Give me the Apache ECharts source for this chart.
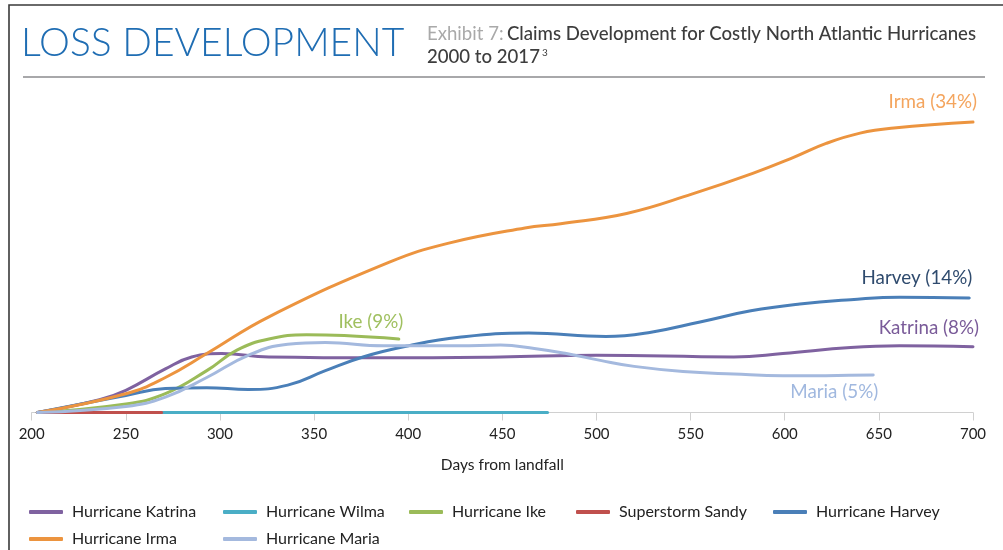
<!DOCTYPE html>
<html>
<head>
<meta charset="utf-8">
<script src="https://cdn.jsdelivr.net/npm/echarts@6/dist/echarts.min.js"></script>
<style>
html,body{margin:0;padding:0;background:#fff;}
#chart{width:1003px;height:550px;}
</style>
</head>
<body>
<div id="chart"></div>
<script>
// ---- data (x = days from landfall, y = cumulative development, %) ----
const xTicks = [200, 250, 300, 350, 400, 450, 500, 550, 600, 650, 700];
const seriesNames = ['Hurricane Katrina', 'Hurricane Wilma', 'Hurricane Ike', 'Superstorm Sandy', 'Hurricane Harvey', 'Hurricane Irma', 'Hurricane Maria'];
const katrina = [[203,0],[236,1.5],[250,2.6],[271,5.1],[285,6.5],[301,6.9],[326,6.5],[387,6.4],[449,6.5],[500,6.7],[573,6.5],[599,6.9],[635,7.6],[661,7.8],[700,7.7]];
const wilma = [[203,0],[474,0]];
const ike = [[203,0],[250,1.0],[271,2.2],[293,4.9],[309,7.3],[326,8.6],[346,9.1],[366,9.0],[395,8.6]];
const sandy = [[203,0],[269,0]];
const harvey = [[203,0],[250,2.0],[271,2.8],[293,2.9],[315,2.7],[336,3.2],[356,4.9],[376,6.5],[400,7.8],[427,8.8],[464,9.3],[505,8.9],[529,9.4],[555,10.6],[582,11.9],[608,12.7],[635,13.2],[661,13.5],[698,13.4]];
const irma = [[203,0],[250,2.2],[271,4.1],[293,6.9],[326,11.2],[390,17.6],[421,19.8],[462,21.6],[481,22.1],[516,23.3],[551,25.6],[583,28.0],[605,29.9],[622,31.5],[640,32.7],[658,33.3],[700,34.0]];
const maria = [[203,0],[250,0.7],[271,1.8],[293,4.1],[315,6.7],[336,8.0],[356,8.2],[387,7.8],[427,7.8],[449,7.9],[467,7.5],[484,6.9],[502,6.1],[520,5.4],[546,4.8],[573,4.5],[599,4.3],[647,4.4]];
const endLabels = ['Katrina (8%)', null, 'Ike (9%)', null, 'Harvey (14%)', 'Irma (34%)', 'Maria (5%)'];

// ---- styling ----
const colors = ['#7f62a0', '#4aaec6', '#9bbb59', '#c0504d', '#4a7fb8', '#ec943f', '#a4b9de'];
const labelColors = ['#7a5b99', null, '#a0c060', null, '#2f4b6e', '#f4a55e', '#a0b8df'];
// label offsets relative to line end: [dx of right/centre edge, dy of centre, align]
const labelPos = [[6,-19,'right'], null, [-28,-17,'center'], null, [3,-20,'right'], [4,-20,'right'], [5,17,'right']];
const legendLeft = [29, 223, 409, 576, 773, 29, 223];
const legendTop = [503, 503, 503, 503, 503, 530, 530];
const FONT = 'Lato, "Open Sans", sans-serif';

const allData = [katrina, wilma, ike, sandy, harvey, irma, maria];

const chart = echarts.init(document.getElementById('chart'), null, {renderer: 'canvas'});

const series = allData.map((d, i) => ({
  name: seriesNames[i],
  type: 'line',
  data: d,
  smooth: 0.45,
  symbol: 'none',
  lineStyle: {width: 3, color: colors[i], cap: 'round'},
  itemStyle: {color: colors[i]},
  z: 2 + i
}));

const legends = seriesNames.map((n, i) => ({
  data: [n],
  left: legendLeft[i],
  top: legendTop[i],
  padding: 0,
  icon: 'roundRect',
  itemWidth: 34,
  itemHeight: 4,
  textStyle: {fontFamily: FONT, fontSize: 16, color: '#222', padding: [0, 0, 0, 4], lineHeight: 18},
  selectedMode: false
}));

const option = {
  animation: false,
  backgroundColor: '#fff',
  grid: {left: 31.7, right: 30, top: 70.8, bottom: 137.5},
  xAxis: {
    type: 'value',
    min: 200, max: 700, interval: 50,
    name: 'Days from landfall',
    nameLocation: 'middle',
    nameGap: 44,
    nameTextStyle: {fontFamily: FONT, fontSize: 15.5, color: '#222'},
    axisLine: {show: true, lineStyle: {color: '#d0d0d0', width: 1}},
    axisTick: {show: true, length: 8, lineStyle: {color: '#d0d0d0'}},
    axisLabel: {fontFamily: FONT, fontSize: 15, color: '#222', margin: 14},
    splitLine: {show: false}
  },
  yAxis: {type: 'value', min: 0, max: 40, show: false, splitLine: {show: false}},
  legend: legends,
  series: series
};
chart.setOption(option);

// ---- header, frame and end labels ----
const graphics = [
  {type: 'rect', shape: {x: 9, y: 5, width: 1100, height: 700}, style: {fill: 'none', stroke: '#3a3a3a', lineWidth: 1.6}, silent: true},
  {type: 'line', shape: {x1: 23, y1: 77, x2: 985, y2: 77}, style: {stroke: '#a8a8aa', lineWidth: 2}, silent: true},
  {type: 'text', x: 21, y: 43, style: {text: 'LOSS DEVELOPMENT', fontFamily: FONT, fontWeight: 300, fontSize: 39, fill: '#1f6db3', align: 'left', verticalAlign: 'middle'}},
  {type: 'text', x: 427, y: 34, style: {
    text: '{g|Exhibit 7:} {d|Claims Development for Costly North Atlantic Hurricanes}',
    align: 'left', verticalAlign: 'middle',
    rich: {
      g: {fontFamily: FONT, fontSize: 18.6, fill: '#a9a9a9'},
      d: {fontFamily: FONT, fontSize: 18.6, fill: '#3d3d3d', fontWeight: 500}
    }}},
  {type: 'text', x: 427, y: 57, style: {
    text: '{d|2000 to 2017}{s|3}',
    align: 'left', verticalAlign: 'middle',
    rich: {
      d: {fontFamily: FONT, fontSize: 18.6, fill: '#3d3d3d', fontWeight: 500},
      s: {fontFamily: FONT, fontSize: 10, fill: '#3d3d3d', verticalAlign: 'top', padding: [0, 0, 0, 2]}
    }}}
];

allData.forEach((d, i) => {
  if (!endLabels[i]) return;
  const last = d[d.length - 1];
  const p = chart.convertToPixel({gridIndex: 0}, last);
  const lp = labelPos[i];
  graphics.push({
    type: 'text',
    x: p[0] + lp[0], y: p[1] + lp[1],
    style: {text: endLabels[i], fontFamily: FONT, fontSize: 18.8, fill: labelColors[i], align: lp[2], verticalAlign: 'middle'}
  });
});

chart.setOption({graphic: graphics});
</script>
</body>
</html>
